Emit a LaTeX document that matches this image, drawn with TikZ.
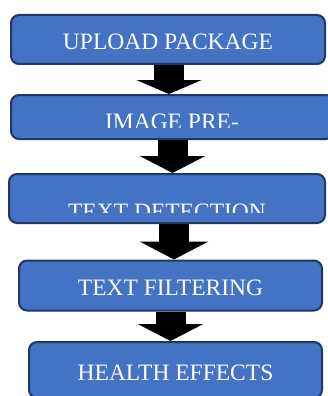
\documentclass[tikz,border=0pt]{standalone}
\usepackage{fontspec}
\setmainfont{Liberation Serif}
\usetikzlibrary{arrows.meta,positioning,backgrounds}

\definecolor{stageblue}{HTML}{4472C4}
\definecolor{stageedge}{HTML}{1F3864}

\tikzset{
  stagefont/.style={font=\fontsize{23.5}{28}\selectfont},
  stage/.style={draw=stageedge, line width=2pt, fill=stageblue, rounded corners=8pt,
    text=white, stagefont, inner sep=0pt, text height=20pt, text depth=0pt},
  stagetext/.style={text=white, stagefont, inner sep=0pt, anchor=base},
  flow/.style={line width=30pt, black, -{Triangle[length=17pt, width=65pt]}}
}

\begin{document}
\begin{tikzpicture}[x=1pt, y=-1pt]
    \useasboundingbox (0,0) rectangle (327,396);

    % Stages of the pipeline
    \node[stage, minimum width=314pt, minimum height=49pt] (upload) at (168,39.5) {UPLOAD PACKAGE};
    \node[stage, minimum width=323pt, minimum height=44pt] (pre) at (172.5,117) {};
    \node[stage, minimum width=316pt, minimum height=49pt] (detect) at (167,198.5) {};
    \node[stage, minimum width=303pt, minimum height=50pt] (filter) at (170.5,285.5) {TEXT FILTERING};
    \node[stage, minimum width=293pt, minimum height=56pt] (health) at (175.5,370) {HEALTH EFFECTS};

    % Labels that overflow their boxes (cut off at the bottom)
    \begin{scope}
        \clip (0,94) rectangle (327,127);
        \node[stagetext] (pretext) at (172,129) {IMAGE PRE-};
    \end{scope}
    \begin{scope}
        \clip (0,173) rectangle (327,212);
        \node[stagetext] (detecttext) at (167,219) {TEXT DETECTION};
    \end{scope}

    % Block arrows between stages
    \begin{scope}[on background layer]
        \draw[flow, -{Triangle[length=14pt, width=65pt]}] ([xshift=1pt]upload.south) -- ([xshift=1pt]upload.south |- pre.north);
        \draw[flow] (pre.south) -- (pre.south |- detect.north);
        \draw[flow, -{Triangle[length=18pt, width=68pt]}] ([xshift=7pt]detect.south) -- ([xshift=7pt]detect.south |- filter.north);
        \draw[flow] (filter.south) -- (filter.south |- health.north);
    \end{scope}
\end{tikzpicture}
\end{document}
